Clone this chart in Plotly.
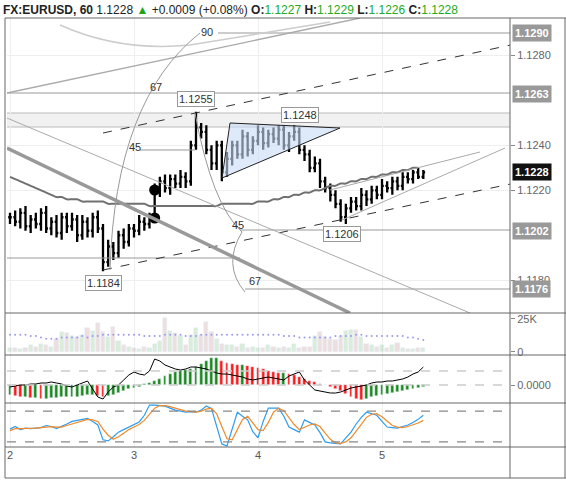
import plotly.graph_objects as go
from plotly.subplots import make_subplots

# ---------------- data (price in 1e-4 above 1.1100) ----------------
closes = [108,106,110,104,107,105,110,103,106,101,108,104,107,100,106,102,108,103,
          88,
          95,92,100,97,103,102,106,105,108,
          120,
          124,121,125,123,126,124,
          140,148,146,138,132,140,
          128,
          134,140,136,144,138,142,146,141,145,143,147,140,144,146,138,
          136,130,132,124,121,
          118,114,108,112,115,
          113,118,116,120,118,122,121,124,122,126,125,128,126,128]
up_w = [2,3,2,3,2,3,2,3,2,3,2,2,3,2,3,2,2,3,2,3,2,2,3,2,2,3,2,2,3,2,3,2,2,3,2,2,7,2,3,2,2,2,
        3,2,2,3,2,2,3,2,2,3,2,2,2,3,2,2,2,3,2,2,2,2,2,2,2,2,3,2,2,2,3,2,2,2,2,2,1,2,1]
dn_w = [3,2,3,2,3,2,3,2,3,2,3,3,2,3,2,3,3,2,4,2,3,2,3,2,3,2,3,2,2,3,2,3,2,2,3,2,2,3,2,3,3,4,
        2,3,2,2,3,2,2,3,2,2,3,2,3,2,2,3,2,2,3,2,3,2,2,3,2,2,2,3,2,2,2,2,3,2,2,2,2,1,1]
ma = [126,125,124,123,122,121,120,119,118,117,117,
      116,116,116,115,115,115,115,115,114,114,114,114,114,114,114,114,113,
      113,113,113,113,113,113,113,113,113,113,113,113,113,114,114,114,114,114,
      114,114,115,115,115,116,116,117,117,118,118,119,119,120,120,121,122,
      122,123,123,124,124,125,125,126,126,127,127,128,128,129,129,130,130]
volume_k = [3,3,2,3,5,4,6,5,4,
            10,15,14,12,11,13,18,16,
            22,15,11,19,8,5,4,3,
            2,4,3,
            6,8,26,16,14,12,
            5,13,18,13,23,15,
            10,6,5,5,4,6,3,
            4,3,3,5,4,3,4,3,6,3,4,4,
            12,15,11,10,9,12,
            16,17,17,11,
            6,5,4,5,3,5,7,3,2,2,3,3]
vol_ma = [13,13,13,13,12,12,11,10,10,10, 11,11,11,11,12,11,12,12,13,13,
          13,13,13,13,13,13,12,12,12,12, 13,13,13,13,12,12,12,13,13,13,
          13,13,13,13,13,13,13,13,13,13, 13,13,13,12,12,12,11,11,11,11,
          11,11,11,12,12,12,12,13,13,12, 12,12,12,12,12,12,12,11,11,10,9]
macd_hist = [-10,-11,-12,-12,-13,-13,-14,-14,-13,-13,-12,-12,-12,-12,-11,-10,-10,-11,-12,-11,-10,-8,-6,-4,-3,-2,
             1,2,4,6,9,11,13,14,15,16,18,21,24,27,
             27,24,22,21,20,20,19,18,17,16,14,13,12,12,11,10,8,6,4,3,1,0,
             -2,-4,-6,-9,-12,-14,-15,-14,-12,-11,-10,-9,-8,-7,-6,-5,-4,-3,-2]
macd_line = [-2,-1,0,0,1,1,2,2,3,2, 1,-1,-2,0,2,4,-4,-12,-14,-7,
             -2,0,5,10,13,11,10,14,26,24, 20,18,16,15,16,18,18,17,16,14,
             12,11,11,10,9,8,6,5,6,7, 8,7,6,5,9,11,13,5,0,-5,
             -6,-7,-8,-8,-7,-5,-3,-2,-1,0, 2,3,3,4,4,5,6,8,11,13,18]
stoch_k = [45,50,44,47,46,47,48,52,50,46,50,55,60,62,64,
           66,60,53,24,22, 30,39,44,49,54,59,72,
           92,92,91,90,86,82,80,78,79, 78,82,90,85,50,16,
           12,45,78,70,63,40,28, 60,86,86,86,70,49,44,
           39,63,58,53,38,20, 18,17,16,28,39,
           55,68,78,75,72,60,49, 48,47,50,53,58,64,72]
stoch_d = [42,46,46,46,47,47,48,49,50,49,49,52,55,59,62,
           64,63,60,45,33, 25,30,37,44,49,54,62,
           75,86,91,91,89,86,83,80,79, 78,80,84,86,75,50,
           26,24,45,64,70,58,44, 42,58,78,86,81,68,54,
           44,48,53,55,50,37, 25,18,17,20,28,
           41,55,68,74,75,69,60, 52,49,48,50,53,57,62]
price_ticks = [1.1180, 1.1220, 1.1240, 1.1280]
level_labels = [1.1290, 1.1263, 1.1228, 1.1202, 1.1176]
day_ticks = [2, 3, 4, 5]

n = len(closes)
x = [2 + i / 24 for i in range(n)]
base = 1.11
c = [base + v * 1e-4 for v in closes]
o = [c[0]] + c[:-1]
h = [max(o[i], c[i]) + up_w[i] * 1e-4 for i in range(n)]
l = [min(o[i], c[i]) - dn_w[i] * 1e-4 for i in range(n)]
ma_p = [base + v * 1e-4 for v in ma]

def X(px): return 2 + (px - 10) / 124
def Y(py): return 1.1290 - (py - 33) * 0.0000445
def PX(px): return (px - 7) / 503
def PY(py): return (447 - py) / 429

fig = make_subplots(rows=4, cols=1, shared_xaxes=True, vertical_spacing=0,
                    row_heights=[295, 42, 48, 44])

fig.add_trace(go.Scatter(x=x, y=ma_p, mode="lines", line=dict(color="#707070", width=2, shape="spline"),
                         hoverinfo="skip"), 1, 1)
fig.add_trace(go.Ohlc(x=x, open=o, high=h, low=l, close=c, tickwidth=0.35,
                      increasing=dict(line=dict(color="black", width=2.3)),
                      decreasing=dict(line=dict(color="black", width=2.3))), 1, 1)
fig.add_trace(go.Scatter(x=[x[28], x[28]], y=[Y(190), Y(218)], mode="markers",
                         marker=dict(color="black", size=11)), 1, 1)

vcol = ["rgba(120,190,120,0.28)" if c[i] >= o[i] else "rgba(190,140,140,0.28)" for i in range(n)]
fig.add_trace(go.Bar(x=x, y=volume_k, marker_color=vcol, width=0.8 / 24), 2, 1)
fig.add_trace(go.Scatter(x=x, y=vol_ma, mode="markers", marker=dict(color="#9a9af0", size=2)), 2, 1)

hcol = ["#1a8a1a" if i == 0 or macd_hist[i] >= macd_hist[i - 1] else "#ff1a1a" for i in range(n)]
fig.add_trace(go.Bar(x=x, y=macd_hist, marker_color=hcol, width=0.55 / 24), 3, 1)
fig.add_trace(go.Scatter(x=x, y=macd_line, mode="lines", line=dict(color="black", width=1)), 3, 1)

fig.add_trace(go.Scatter(x=x, y=stoch_k, mode="lines", line=dict(color="#2e9cf0", width=1.2)), 4, 1)
fig.add_trace(go.Scatter(x=x, y=stoch_d, mode="lines", line=dict(color="#f08a2a", width=1.2)), 4, 1)

shapes = []
def seg(x0, y0, x1, y1, color="#999", width=1, dash="solid"):
    shapes.append(dict(type="line", xref="x", yref="y", x0=X(x0), y0=Y(y0), x1=X(x1), y1=Y(y1),
                       line=dict(color=color, width=width, dash=dash)))
shapes.append(dict(type="rect", xref="x", yref="y", x0=X(0), x1=X(520), y0=Y(113), y1=Y(127),
                   fillcolor="rgba(200,200,200,0.25)", line=dict(color="#bbb", width=1), layer="below"))
seg(218, 33, 520, 33); seg(0, 93, 520, 93)
seg(140, 150, 195, 150); seg(0, 258, 240, 258)
seg(240, 230, 520, 230); seg(245, 289, 520, 289)
seg(7, 93, 360, 18, "#aaa", 1.3)
seg(103, 133, 520, 43, "#333", 1, "dash")
seg(103, 270, 520, 182, "#333", 1, "dash")
seg(7, 148, 350, 313, "#999", 3.5)
seg(7, 118, 470, 313, "#aaa", 1)
seg(342, 220, 505, 148, "#aaa", 1)
seg(330, 190, 480, 152, "#aaa", 1)
shapes.append(dict(type="path", xref="x", yref="y",
                   path=f"M {X(60)},{Y(25)} Q {X(120)},{Y(52)} {X(190)},{Y(45)} L {X(330)},{Y(22)}",
                   line=dict(color="#ccc", width=1.5)))
shapes.append(dict(type="path", xref="x", yref="y",
                   path=f"M {X(200)},{Y(33)} Q {X(115)},{Y(100)} {X(110)},{Y(270)}",
                   line=dict(color="#999", width=1)))
shapes.append(dict(type="path", xref="x", yref="y",
                   path=f"M {X(195)},{Y(113)} Q {X(212)},{Y(205)} {X(242)},{Y(232)} Q {X(222)},{Y(265)} {X(245)},{Y(292)}",
                   line=dict(color="#999", width=1)))
shapes.append(dict(type="path", xref="x", yref="y",
                   path=f"M {X(222)},{Y(178)} L {X(230)},{Y(123)} L {X(340)},{Y(128)} Z",
                   fillcolor="rgba(200,220,245,0.6)", line=dict(color="#222", width=1)))
for yy in [14, 0]:
    shapes.append(dict(type="line", xref="paper", yref="y3", x0=0, x1=1, y0=yy, y1=yy,
                       line=dict(color="#ccc", width=1.5, dash="dash")))
for yy in [80, 20]:
    shapes.append(dict(type="line", xref="paper", yref="y4", x0=0, x1=1, y0=yy, y1=yy,
                       line=dict(color="#888", width=1.2, dash="dash")))
for py in [18, 313, 355, 403, 447, 478]:
    shapes.append(dict(type="line", xref="paper", yref="paper", x0=PX(5), x1=PX(566), y0=PY(py), y1=PY(py),
                       line=dict(color="#666", width=1)))
for px in [5, 510, 565]:
    shapes.append(dict(type="line", xref="paper", yref="paper", x0=PX(px), x1=PX(px), y0=PY(478), y1=PY(18),
                       line=dict(color="#666", width=1)))
fig.update_layout(shapes=shapes)

ann = []
def lab(px, py, text, box=False):
    ann.append(dict(x=X(px), y=Y(py), xref="x", yref="y", text=text, showarrow=False,
                    font=dict(size=11, color="#333"),
                    bgcolor="white" if box else None, bordercolor="#999" if box else None,
                    borderwidth=1 if box else 0, borderpad=1))
lab(207, 32, "90"); lab(156, 87, "67"); lab(135, 147, "45")
lab(238, 225, "45"); lab(255, 281, "67")
lab(196, 99, "1.1255", True); lab(300, 115, "1.1248", True)
lab(342, 234, "1.1206", True); lab(103, 283, "1.1184", True)
for lv in level_labels:
    ann.append(dict(x=1, xref="paper", y=lv, yref="y", xanchor="left", xshift=2,
                    text=f"<b>{lv:.4f}</b>", showarrow=False,
                    font=dict(size=11, color="white", family="Liberation Sans"),
                    bgcolor="#111" if abs(lv - 1.1228) < 1e-6 else "#999", borderpad=2))
ann.append(dict(x=0, xref="paper", y=PY(10), yref="paper", xanchor="left", xshift=-6, yanchor="middle",
                showarrow=False, font=dict(size=12, color="#222", family="Liberation Sans"),
                text="<b>FX:EURUSD, 60</b> 1.1228 <span style='color:#1aa41a'>▲</span> +0.0009 (+0.08%) "
                     "<b>O:</b><span style='color:#22aa22'>1.1227</span> <b>H:</b><span style='color:#22aa22'>1.1229</span> "
                     "<b>L:</b><span style='color:#22aa22'>1.1226</span> <b>C:</b><span style='color:#22aa22'>1.1228</span>"))
fig.update_layout(annotations=ann)

xr = [X(7), X(510)]
for r in range(1, 5):
    fig.update_xaxes(range=xr, row=r, col=1, showgrid=True, gridcolor="#eeeeee", zeroline=False,
                     tickvals=day_ticks, showticklabels=(r == 4), rangeslider_visible=False,
                     tickfont=dict(size=11, color="#555"), ticks="")
fig.update_yaxes(row=1, col=1, side="right", range=[Y(313), Y(18)], tickvals=price_ticks,
                 tickformat=".4f", ticks="outside", ticklen=4, tickcolor="#888",
                 tickfont=dict(size=11, color="#666"), gridcolor="#eeeeee", zeroline=False)
fig.update_yaxes(row=2, col=1, side="right", range=[-2.3, 29.5], tickvals=[0, 25], ticktext=["0", "25K"],
                 ticks="outside", ticklen=4, tickcolor="#888", tickfont=dict(size=11, color="#666"),
                 showgrid=False, zeroline=False)
fig.update_yaxes(row=3, col=1, side="right", range=[-18, 30], tickvals=[0], ticktext=["0.0000"],
                 ticks="outside", ticklen=4, tickcolor="#888", tickfont=dict(size=11, color="#666"),
                 showgrid=False, zeroline=False)
fig.update_yaxes(row=4, col=1, side="right", range=[10, 96], showticklabels=False,
                 showgrid=False, zeroline=False)
fig.update_layout(width=566, height=480, margin=dict(l=7, r=56, t=18, b=33),
                  plot_bgcolor="white", paper_bgcolor="white", showlegend=False,
                  bargap=0, font=dict(family="Liberation Sans"))
fig.write_html("out.html", config={"displayModeBar": False},
               post_script="document.body.style.margin='0';")
